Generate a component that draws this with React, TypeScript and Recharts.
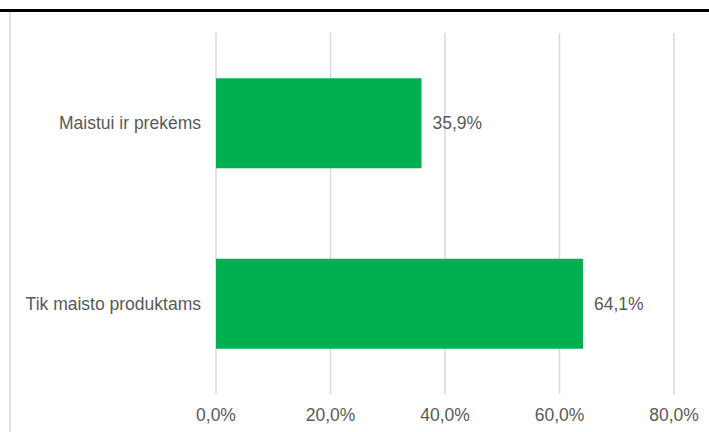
import React from 'react';
import { BarChart, Bar, XAxis, YAxis, CartesianGrid, LabelList } from 'recharts';

const categories = ['Maistui ir prekėms', 'Tik maisto produktams'];
const shares = [35.9, 64.1];
const xTicks = [0, 20, 40, 60, 80];

const data = categories.map((name, i) => ({ name, value: shares[i] }));

const fmt = (v: number) => `${Number(v).toFixed(1).replace('.', ',')}%`;

const FONT = '"Liberation Sans", Arial, sans-serif';
const TEXT = '#595959';

export default function App() {
  return (
    <div style={{ position: 'absolute', left: 0, top: 0, width: 709, height: 432, background: '#fff', overflow: 'hidden' }}>
      <div style={{ position: 'absolute', left: 0, top: 9, width: 709, height: 3, background: '#000' }} />
      <div style={{ position: 'absolute', left: 9, top: 12, width: 2, height: 420, background: '#e0e0e0' }} />
      <div style={{ position: 'absolute', left: 0, top: 0 }}>
        <BarChart
          width={709}
          height={432}
          data={data}
          layout="vertical"
          margin={{ top: 33, right: 35, bottom: 0, left: 10 }}
          barCategoryGap="25%"
        >
          <CartesianGrid horizontal={false} vertical={true} stroke="#d9d9d9" strokeWidth={1.5} />
          <XAxis
            type="number"
            domain={[0, 80]}
            ticks={xTicks}
            tickFormatter={fmt}
            axisLine={false}
            tickLine={false}
            tickMargin={9}
            height={38}
            tick={{ fill: TEXT, fontSize: 17.5, fontFamily: FONT }}
            interval={0}
          />
          <YAxis
            type="category"
            dataKey="name"
            width={206}
            axisLine={false}
            tickLine={false}
            tickMargin={9}
            tick={{ fill: TEXT, fontSize: 17.5, fontFamily: FONT }}
          />
          <Bar dataKey="value" fill="#00b050" isAnimationActive={false}>
            <LabelList
              dataKey="value"
              position="right"
              offset={11}
              formatter={(v: any) => fmt(v)}
              style={{ fill: TEXT, fontSize: 17.5, fontFamily: FONT }}
            />
          </Bar>
        </BarChart>
      </div>
    </div>
  );
}
